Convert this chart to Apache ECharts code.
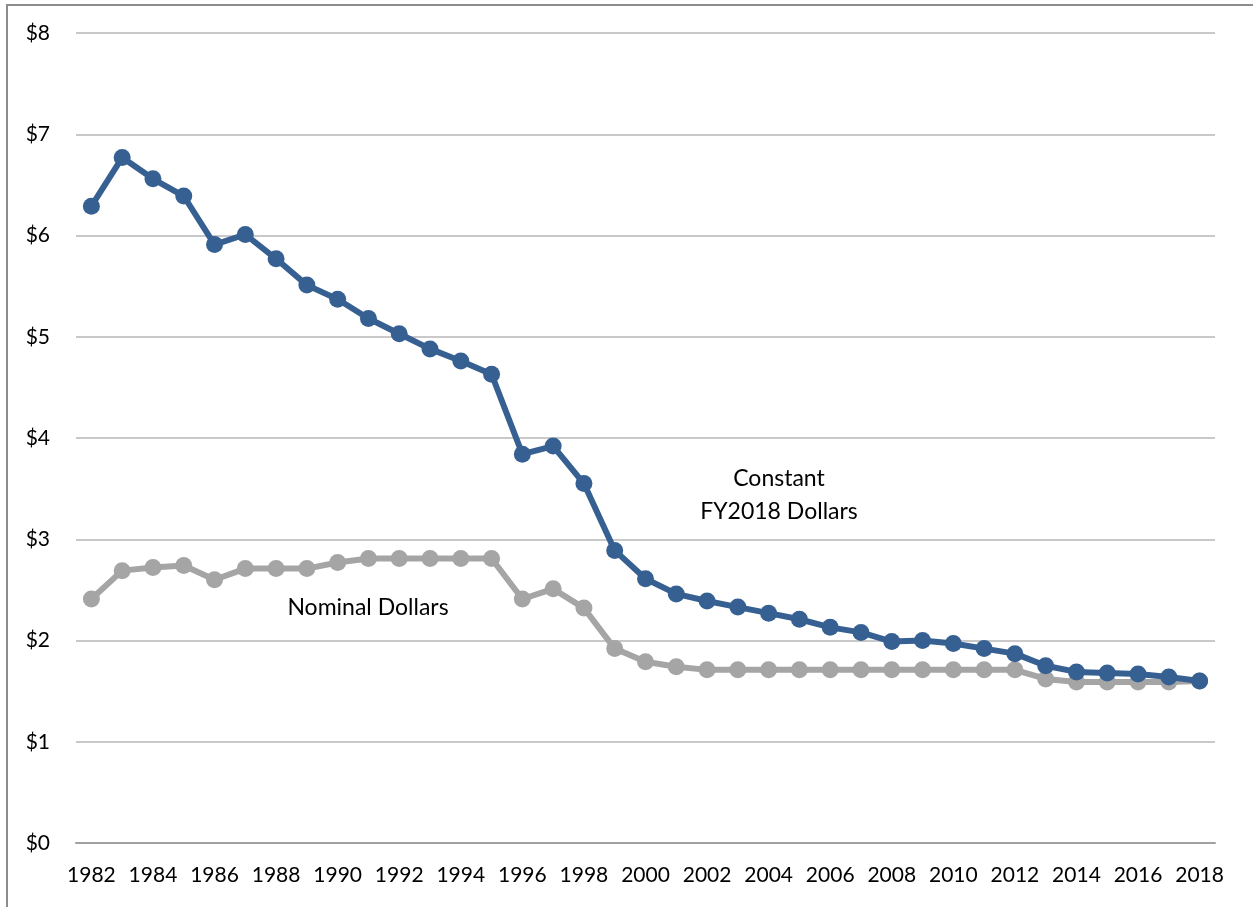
<!DOCTYPE html>
<html>
<head>
<meta charset="utf-8">
<script src="https://cdn.jsdelivr.net/npm/echarts@6/dist/echarts.min.js"></script>
<style>
  html, body { margin: 0; padding: 0; background: #fff; }
  #chart { width: 1253px; height: 907px; position: relative; }
  .frame {
    position: absolute; left: 6px; top: 4px; right: 0; bottom: 0;
    border-left: 2px solid #8c8c8c; border-top: 2px solid #8c8c8c;
    pointer-events: none;
  }
</style>
</head>
<body>
<div id="chart"></div>
<div class="frame"></div>
<script>
const years = []
for (let y = 1982; y <= 2018; y++) years.push(String(y))

// constant FY2018 dollars
const constantDollars = [
  6.29, 6.77, 6.56, 6.39, 5.91, 6.01, 5.77, 5.51, 5.37, 5.18,
  5.03, 4.88, 4.76, 4.63, 3.84, 3.92, 3.55, 2.89, 2.61, 2.46,
  2.39, 2.33, 2.27, 2.21, 2.13, 2.08, 1.99, 2.00, 1.97, 1.92,
  1.87, 1.75, 1.69, 1.68, 1.67, 1.64, 1.60
]
// nominal dollars
const nominalDollars = [
  2.41, 2.69, 2.72, 2.74, 2.60, 2.71, 2.71, 2.71, 2.77, 2.81,
  2.81, 2.81, 2.81, 2.81, 2.41, 2.51, 2.32, 1.92, 1.79, 1.74,
  1.71, 1.71, 1.71, 1.71, 1.71, 1.71, 1.71, 1.71, 1.71, 1.71,
  1.71, 1.62, 1.59, 1.59, 1.59, 1.59, 1.60
]

const font = 'Lato, "Noto Sans", sans-serif'

let ch = echarts.init(document.getElementById('chart'))
let option = {
  animation: false,
  textStyle: { fontFamily: font },
  grid: { left: 76, right: 38, top: 33, bottom: 64 },
  xAxis: {
    type: 'category',
    data: years,
    boundaryGap: true,
    axisLine: { lineStyle: { color: '#a0a0a0', width: 2 } },
    axisTick: { show: false },
    axisLabel: {
      interval: 1,
      color: '#000',
      fontSize: 21,
      fontFamily: font,
      margin: 22
    }
  },
  yAxis: {
    type: 'value',
    min: 0,
    max: 8,
    interval: 1,
    axisLine: { show: false },
    axisTick: { show: false },
    splitLine: { lineStyle: { color: '#c9c9c9', width: 2 } },
    axisLabel: {
      color: '#000',
      fontSize: 21,
      fontFamily: font,
      margin: 26,
      formatter: '${value}'
    }
  },
  series: [
    {
      name: 'Nominal Dollars',
      type: 'line',
      data: nominalDollars,
      symbol: 'circle',
      symbolSize: 17,
      lineStyle: { color: '#a5a5a5', width: 6 },
      itemStyle: { color: '#a5a5a5' },
      z: 2
    },
    {
      name: 'Constant FY2018 Dollars',
      type: 'line',
      data: constantDollars,
      symbol: 'circle',
      symbolSize: 17,
      lineStyle: { color: '#376092', width: 6 },
      itemStyle: { color: '#376092' },
      z: 3
    }
  ],
  graphic: [
    {
      type: 'text',
      x: 779, y: 462,
      style: {
        text: 'Constant\nFY2018 Dollars',
        align: 'center',
        verticalAlign: 'top',
        font: '23px ' + font,
        fill: '#000',
        lineHeight: 33
      }
    },
    {
      type: 'text',
      x: 368, y: 596,
      style: {
        text: 'Nominal Dollars',
        align: 'center',
        verticalAlign: 'top',
        font: '23px ' + font,
        fill: '#000'
      }
    }
  ]
}
ch.setOption(option)
</script>
</body>
</html>
